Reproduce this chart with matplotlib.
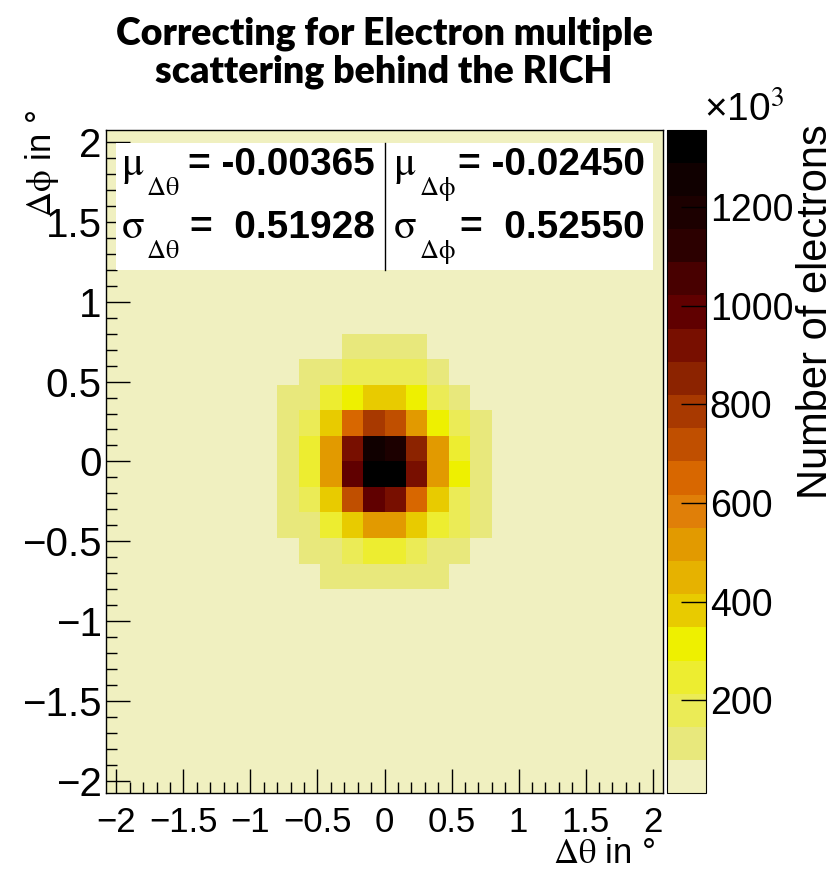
import numpy as np
import matplotlib
matplotlib.use('Agg')
import matplotlib.pyplot as plt
from matplotlib.colors import ListedColormap, BoundaryNorm
from matplotlib.patches import Rectangle

plt.rcParams['font.family'] = ['Liberation Sans', 'DejaVu Sans']
plt.rcParams['mathtext.fontset'] = 'stix'
plt.rcParams['mathtext.default'] = 'rm'

# histogram binning (degrees): 26 x 26 bins of 0.16
hist_lo, hist_hi, n_bins = -2.08, 2.08, 26

# counts in thousands (core region x,y in [-0.8, 0.8]),
# rows from top (dphi = 0.64..0.80) to bottom (dphi = -0.80..-0.64)
core_lo = -0.80
core_counts = [
    [40, 40, 45, 110, 115, 118, 108, 45, 40, 35],
    [50, 95, 120, 175, 185, 190, 170, 115, 50, 40],
    [85, 110, 240, 310, 375, 385, 305, 195, 105, 45],
    [100, 180, 390, 650, 790, 730, 520, 320, 175, 95],
    [110, 245, 530, 920, 1255, 1190, 860, 525, 240, 105],
    [110, 250, 540, 990, 1358, 1330, 925, 520, 310, 110],
    [100, 185, 385, 720, 985, 915, 655, 380, 180, 95],
    [80, 105, 250, 380, 515, 510, 375, 245, 180, 90],
    [40, 95, 115, 185, 250, 245, 180, 115, 100, 45],
    [30, 40, 100, 110, 115, 112, 108, 95, 40, 30],
]
# tails outside the core all sit in the lowest colour band
tail_count = 11

# fit results shown in the box: (symbol, subscript, value text)
stats_left = [(r'$\mu$', r'$\Delta\theta$', '= -0.00365'),
              (r'$\sigma$', r'$\Delta\theta$', '=  0.51928')]
stats_right = [(r'$\mu$', r'$\Delta\phi$', '= -0.02450'),
               (r'$\sigma$', r'$\Delta\phi$', '=  0.52550')]

cbar_ticks = [200, 400, 600, 800, 1000, 1200]

# inverted black body palette, 20 contour levels
palette = ['#f0f0c0', '#e8e87c', '#ebeb56', '#eded30', '#eef000',
           '#e8cb00', '#e6b200', '#e29a00', '#e07f08', '#d86700',
           '#c04f00', '#a83900', '#8c2300', '#780f00', '#600000',
           '#480000', '#2c0000', '#1c0000', '#100000', '#000000']

edges = np.linspace(hist_lo, hist_hi, n_bins + 1)
counts = np.full((n_bins, n_bins), float(tail_count))
core = np.array(core_counts, dtype=float)[::-1]
i0 = int(np.searchsorted(edges, core_lo - 1e-9))
counts[i0:i0 + core.shape[0], i0:i0 + core.shape[1]] = core

levels = np.linspace(counts.min(), counts.max(), len(palette) + 1)
cmap = ListedColormap(palette)
norm = BoundaryNorm(levels, cmap.N)

W, H = 839, 871
fig = plt.figure(figsize=(W / 100, H / 100), dpi=100)
ax_l, ax_r, ax_t, ax_b = 105.7, 663.3, 129.5, 793.3
ax = fig.add_axes([ax_l / W, 1 - ax_b / H, (ax_r - ax_l) / W, (ax_b - ax_t) / H])
cax = fig.add_axes([667.3 / W, 1 - ax_b / H, (705.7 - 667.3) / W, (ax_b - ax_t) / H])

mesh = ax.pcolormesh(edges, edges, counts, cmap=cmap, norm=norm)
ax.set_xlim(hist_lo, hist_hi)
ax.set_ylim(hist_lo, hist_hi)
tick_labels = ['\u22122', '\u22121.5', '\u22121', '\u22120.5', '0', '0.5', '1', '1.5', '2']
ax.set_xticks(np.arange(-2, 2.01, 0.5))
ax.set_yticks(np.arange(-2, 2.01, 0.5))
ax.set_xticklabels(tick_labels)
ax.set_yticklabels(tick_labels)
ax.xaxis.set_minor_locator(matplotlib.ticker.MultipleLocator(0.1))
ax.yaxis.set_minor_locator(matplotlib.ticker.MultipleLocator(0.1))
ax.tick_params(which='major', direction='in', length=17, width=1)
ax.tick_params(which='minor', direction='in', length=8, width=1)
ax.tick_params(axis='x', pad=9, labelsize=25)
ax.tick_params(axis='y', pad=3, labelsize=29)
for s in ax.spines.values():
    s.set_linewidth(1)

# stats box
ax.add_patch(Rectangle((0.0185, 0.789), 0.9625, 0.191, transform=ax.transAxes,
                       facecolor='white', edgecolor='none', zorder=5))
ax.plot([0.5005, 0.5005], [0.789, 0.980], transform=ax.transAxes, color='black', lw=1, zorder=6)
sub_drop = 20 / (ax_b - ax_t)
for col, (x_sym, x_sub, x_end) in zip([stats_left, stats_right],
                                      [(0.027, 0.073, 0.483), (0.5155, 0.561, 0.967)]):
    for (sym, sub, val), yb in zip(col, [0.932, 0.837]):
        ax.text(x_sym, yb, sym, transform=ax.transAxes, fontsize=30, va='baseline', zorder=7)
        ax.text(x_sub, yb - sub_drop, sub, transform=ax.transAxes, fontsize=19,
                va='baseline', zorder=7)
        ax.text(x_end, yb, val, transform=ax.transAxes, fontsize=28,
                fontweight='bold', ha='right', va='baseline', zorder=7)

cb = fig.colorbar(mesh, cax=cax, ticks=cbar_ticks, spacing='proportional')
cb.ax.set_yticklabels([str(t) for t in cbar_ticks])
cb.ax.tick_params(direction='in', length=18, width=1, labelsize=27, pad=3)
cb.ax.minorticks_off()
cb.outline.set_linewidth(0.8)

fig.text(704 / W, 1 - 129 / H, '\u00d710$^{3}$', fontsize=28, ha='left', va='bottom')
fig.text(816 / W, 1 - 124 / H, 'Number of electrons', fontsize=30, rotation=90,
         ha='center', va='top')
fig.text(656 / W, 1 - 863 / H, r'$\Delta\theta$ in °', fontsize=25, ha='right', va='baseline')
fig.text(42 / W, 1 - 110 / H, r'$\Delta\phi$ in °', fontsize=25, rotation=90,
         ha='center', va='top')

title_font = dict(fontsize=27, fontweight='heavy', family=['Lato', 'DejaVu Sans'],
                  ha='center', va='center')
fig.text(384 / W, 1 - 34 / H, 'Correcting for Electron multiple', **title_font)
fig.text(384 / W, 1 - 72 / H, 'scattering behind the RICH', **title_font)

fig.savefig('out.png', dpi=100)
